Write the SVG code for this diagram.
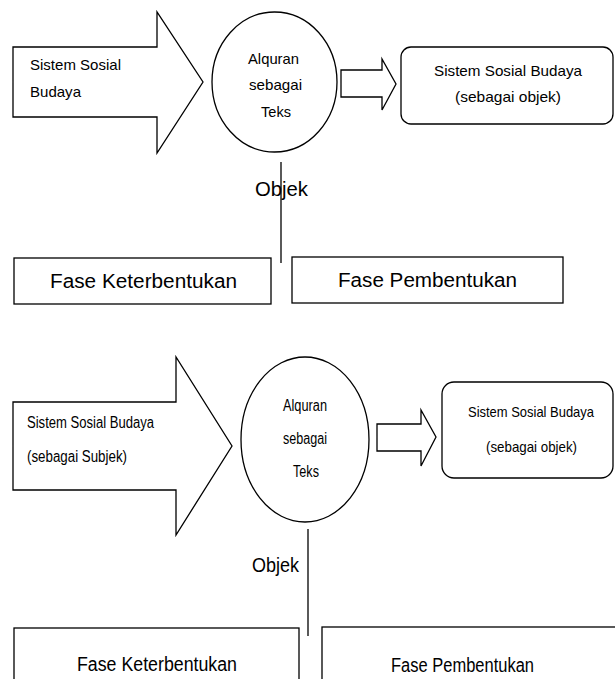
<svg xmlns="http://www.w3.org/2000/svg" width="615" height="679" viewBox="0 0 615 679">
<style>
.s{fill:#fff;stroke:#000;stroke-width:1.3}
.l{stroke:#000;stroke-width:1.3;fill:none}
text{font-family:"Liberation Sans",Arial,sans-serif;fill:#000}
.a{font-size:15px}
.o{font-size:20px}
.f{font-size:20px}
.b{font-size:16px}
.br{font-size:14.5px}
.bo{font-size:20px}
.bf{font-size:20px}
</style>
<rect width="615" height="679" fill="#fff"/>
<g id="connectors">
<line class="l" x1="281" y1="162" x2="281" y2="263"/>
<line class="l" x1="308" y1="529" x2="308" y2="636"/>
<polygon id="arrow-small-top" class="s" points="341,70 382,70 382,59 396,84 382,110 382,97 341,97"/>
<polygon id="arrow-small-bottom" class="s" points="377,424 421,424 421,410 436,437 421,466 421,451 377,451"/>
<text class="o" x="255" y="196" textLength="53" lengthAdjust="spacingAndGlyphs">Objek</text>
<text class="bo" x="252" y="572" textLength="47" lengthAdjust="spacingAndGlyphs">Objek</text>
</g>
<g id="top-subject">
<polygon class="s" points="13,47 157,47 157,12 203,82 157,153 157,117 13,117"/>
<text class="a" x="30" y="70" textLength="91" lengthAdjust="spacingAndGlyphs">Sistem Sosial</text>
<text class="a" x="30" y="97" textLength="51" lengthAdjust="spacingAndGlyphs">Budaya</text>
</g>
<g id="top-quran">
<ellipse class="s" cx="274.5" cy="82" rx="62.5" ry="70"/>
<text class="a" x="248" y="64" textLength="51" lengthAdjust="spacingAndGlyphs">Alquran</text>
<text class="a" x="249" y="90" textLength="53" lengthAdjust="spacingAndGlyphs">sebagai</text>
<text class="a" x="261" y="117" textLength="30" lengthAdjust="spacingAndGlyphs">Teks</text>
</g>
<g id="top-object">
<rect class="s" x="401" y="47" width="212" height="77" rx="10"/>
<text class="a" x="434" y="76" textLength="148" lengthAdjust="spacingAndGlyphs">Sistem Sosial Budaya</text>
<text class="a" x="455" y="102" textLength="106" lengthAdjust="spacingAndGlyphs">(sebagai objek)</text>
</g>
<g id="top-keterbentukan">
<rect class="s" x="14" y="258" width="257" height="46"/>
<text class="f" x="50" y="288" textLength="187" lengthAdjust="spacingAndGlyphs">Fase Keterbentukan</text>
</g>
<g id="top-pembentukan">
<rect class="s" x="292" y="257" width="271" height="46"/>
<text class="f" x="338" y="287" textLength="179" lengthAdjust="spacingAndGlyphs">Fase Pembentukan</text>
</g>
<g id="bottom-subject">
<polygon class="s" points="13,402 176,402 176,357 232,446 176,535 176,490 13,490"/>
<text class="b" x="27" y="428" textLength="127" lengthAdjust="spacingAndGlyphs">Sistem Sosial Budaya</text>
<text class="b" x="27" y="462" textLength="100" lengthAdjust="spacingAndGlyphs">(sebagai Subjek)</text>
</g>
<g id="bottom-quran">
<ellipse class="s" cx="305" cy="439.5" rx="64" ry="82.5"/>
<text class="b" x="283" y="411" textLength="44" lengthAdjust="spacingAndGlyphs">Alquran</text>
<text class="b" x="283" y="444" textLength="44" lengthAdjust="spacingAndGlyphs">sebagai</text>
<text class="b" x="293" y="477" textLength="26" lengthAdjust="spacingAndGlyphs">Teks</text>
</g>
<g id="bottom-object">
<rect class="s" x="442" y="382" width="171" height="96" rx="12"/>
<text class="br" x="468" y="417" textLength="126" lengthAdjust="spacingAndGlyphs">Sistem Sosial Budaya</text>
<text class="br" x="486" y="452" textLength="91" lengthAdjust="spacingAndGlyphs">(sebagai objek)</text>
</g>
<g id="bottom-keterbentukan">
<rect class="s" x="14" y="628" width="285" height="70"/>
<text class="bf" x="77" y="671" textLength="160" lengthAdjust="spacingAndGlyphs">Fase Keterbentukan</text>
</g>
<g id="bottom-pembentukan">
<rect class="s" x="322" y="627" width="300" height="70"/>
<text class="bf" x="391" y="672" textLength="143" lengthAdjust="spacingAndGlyphs">Fase Pembentukan</text>
</g>
</svg>
